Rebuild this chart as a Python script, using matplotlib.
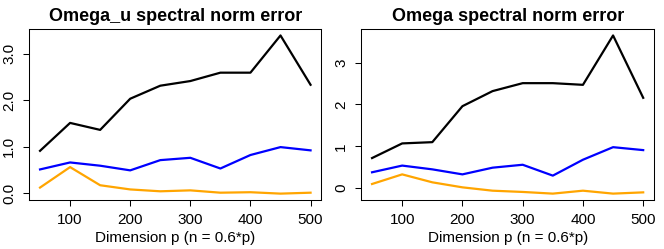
import matplotlib
matplotlib.use("Agg")
import matplotlib.pyplot as plt

plt.rcParams["font.family"] = ["Liberation Sans", "DejaVu Sans"]

dims = [50, 100, 150, 200, 250, 300, 350, 400, 450, 500]

# Omega_u spectral norm error
ou_black = [0.91, 1.51, 1.36, 2.03, 2.31, 2.41, 2.59, 2.59, 3.39, 2.33]
ou_blue = [0.51, 0.66, 0.59, 0.49, 0.71, 0.76, 0.53, 0.82, 0.99, 0.92]
ou_orange = [0.12, 0.56, 0.17, 0.08, 0.04, 0.06, 0.01, 0.02, -0.01, 0.01]

# Omega spectral norm error
o_black = [0.72, 1.07, 1.10, 1.96, 2.32, 2.51, 2.51, 2.47, 3.65, 2.16]
o_blue = [0.38, 0.54, 0.45, 0.33, 0.49, 0.56, 0.30, 0.68, 0.98, 0.91]
o_orange = [0.10, 0.33, 0.14, 0.02, -0.06, -0.09, -0.13, -0.06, -0.13, -0.10]

x_ticks = [100, 200, 300, 400, 500]

fig = plt.figure(figsize=(6.64, 2.49), dpi=100)
ax1 = fig.add_axes([0.044, 0.197, 0.440, 0.686])
ax2 = fig.add_axes([0.544, 0.197, 0.441, 0.686])


def r_style(ax, title, black, blue, orange, yticks, ylabels):
    ax.plot(dims, black, color="black", lw=1.6)
    ax.plot(dims, blue, color="#0000FF", lw=1.6)
    ax.plot(dims, orange, color="#FFA500", lw=1.6)
    lo = min(black + blue + orange)
    hi = max(black + blue + orange)
    pad = (hi - lo) * 0.04
    ax.set_ylim(lo - pad, hi + pad)
    ax.set_xlim(50 - 450 * 0.04, 500 + 450 * 0.04)
    ax.set_xticks(x_ticks)
    ax.set_yticks(yticks)
    ax.set_yticklabels(ylabels, rotation=90, va="center")
    ax.tick_params(labelsize=11, length=4.5, width=0.75, pad=5)
    for s in ax.spines.values():
        s.set_linewidth(0.75)
    ax.set_title(title, fontsize=13, fontweight="bold", pad=6)
    ax.set_xlabel("Dimension p (n = 0.6*p)", fontsize=11, labelpad=2.5)


r_style(ax1, "Omega_u spectral norm error", ou_black, ou_blue, ou_orange,
        [0, 1, 2, 3], ["0.0", "1.0", "2.0", "3.0"])
r_style(ax2, "Omega spectral norm error", o_black, o_blue, o_orange,
        [0, 1, 2, 3], ["0", "1", "2", "3"])

fig.savefig("out.png", dpi=100)
